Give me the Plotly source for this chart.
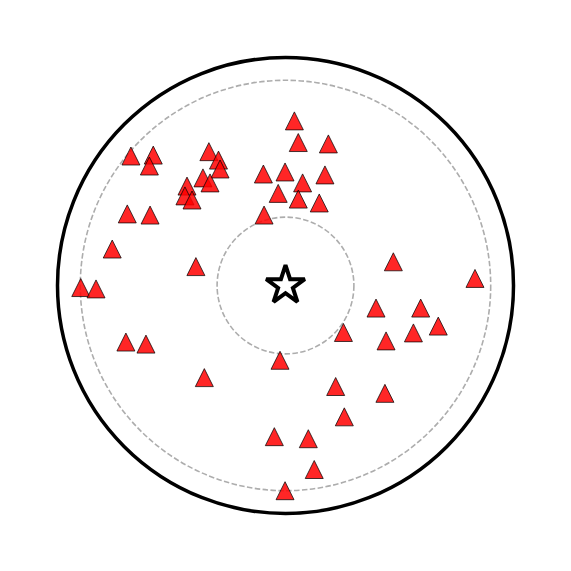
import plotly.graph_objects as go

# Source positions (unit circle = outer boundary)
src_x = [0.039, 0.056, 0.188, -0.678, -0.580, -0.597, -0.336, -0.294, -0.287, -0.362,
         -0.331, -0.432, -0.441, -0.410, -0.097, -0.002, 0.075, 0.173, -0.032, 0.056,
         0.148, -0.094, -0.694, -0.594, -0.760, -0.393, -0.898, -0.831, 0.473, 0.831,
         0.397, 0.593, 0.254, 0.561, 0.670, 0.441, -0.700, -0.612, -0.024, -0.356,
         0.220, 0.436, 0.258, -0.049, 0.100, 0.126, -0.002]
src_y = [0.722, 0.627, 0.621, 0.568, 0.572, 0.524, 0.587, 0.550, 0.511, 0.472,
         0.450, 0.436, 0.393, 0.375, 0.489, 0.498, 0.450, 0.485, 0.404, 0.379,
         0.362, 0.309, 0.314, 0.309, 0.160, 0.083, -0.009, -0.015, 0.104, 0.031,
         -0.099, -0.099, -0.206, -0.208, -0.178, -0.243, -0.248, -0.257, -0.328, -0.404,
         -0.443, -0.473, -0.576, -0.663, -0.672, -0.807, -0.900]

center_x = [0.0]
center_y = [0.0]

boundary_r = 1.0
ring_radii = [0.9, 0.3]

fig = go.Figure()

shapes = [dict(type="circle", xref="x", yref="y",
               x0=-boundary_r, y0=-boundary_r, x1=boundary_r, y1=boundary_r,
               line=dict(color="black", width=3.5), layer="below")]
for rr in ring_radii:
    shapes.append(dict(type="circle", xref="x", yref="y",
                       x0=-rr, y0=-rr, x1=rr, y1=rr,
                       line=dict(color="#adadad", width=1.6, dash="5.5px,2.4px"),
                       layer="below"))

fig.add_trace(go.Scatter(
    x=src_x, y=src_y, mode="markers",
    marker=dict(symbol="arrow-down", angle=180, standoff=9, size=18,
                color="rgba(255,0,0,0.85)",
                line=dict(color="rgba(0,0,0,0.9)", width=0.8)),
    hoverinfo="skip", showlegend=False))

fig.add_trace(go.Scatter(
    x=center_x, y=center_y, mode="markers",
    marker=dict(symbol="star", size=29, color="white",
                line=dict(color="black", width=4)),
    hoverinfo="skip", showlegend=False))

rng = 551 / 2 / 228
fig.update_layout(
    width=571, height=571,
    margin=dict(l=10, r=10, t=10, b=10),
    paper_bgcolor="white", plot_bgcolor="white",
    shapes=shapes,
    xaxis=dict(range=[-rng, rng], visible=False, fixedrange=True),
    yaxis=dict(range=[-rng, rng], visible=False, fixedrange=True),
)

fig.write_html("out.html")
